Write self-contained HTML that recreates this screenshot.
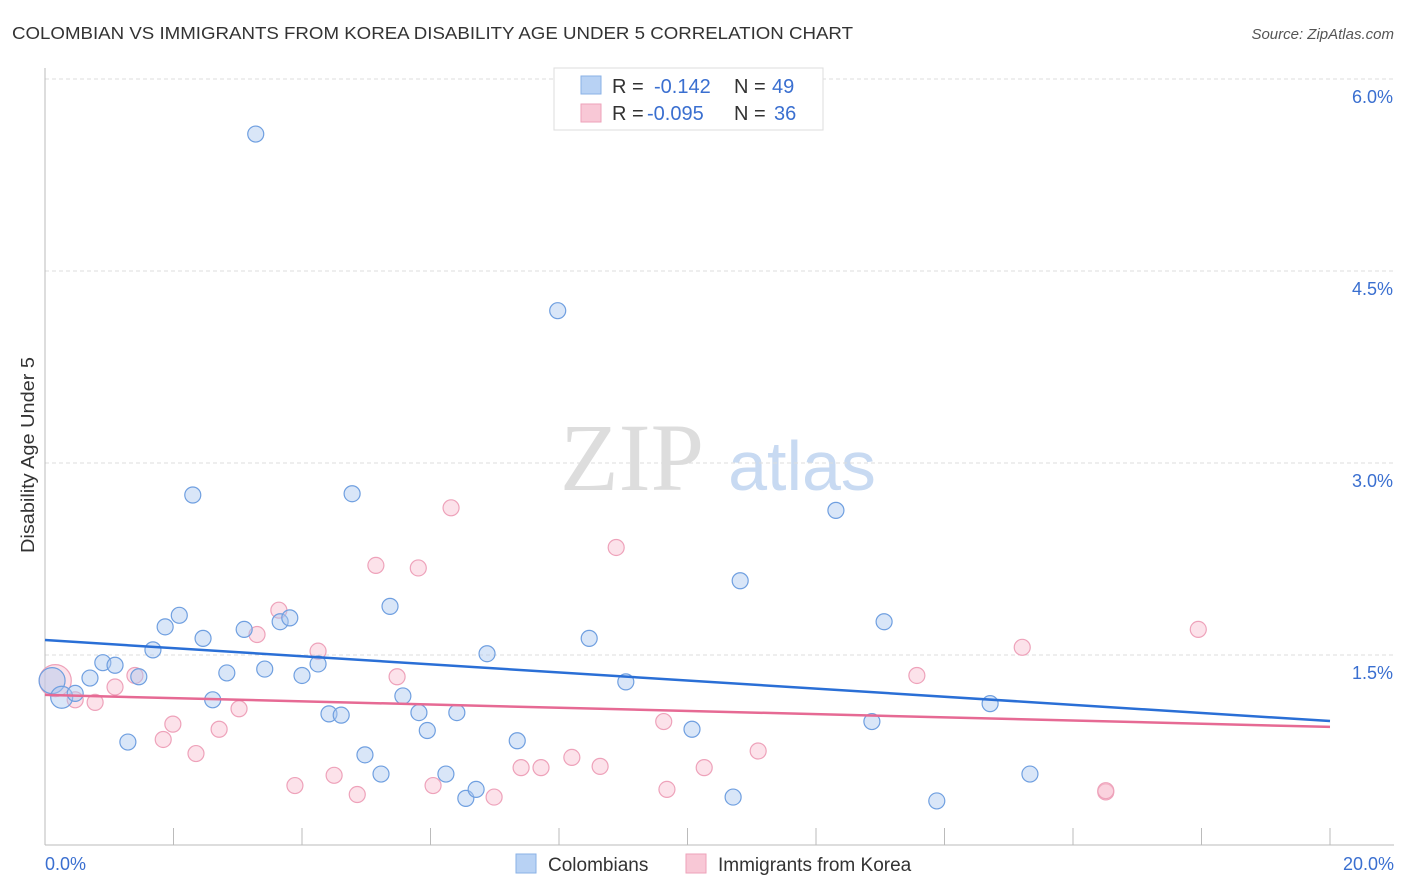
<!DOCTYPE html>
<html><head><meta charset="utf-8"><style>
body{margin:0;background:#fff;font-family:"Liberation Sans",sans-serif;}
svg{display:block}
</style></head><body>
<svg width="1406" height="892">
<text x="12" y="39" font-size="17.5" fill="#333" textLength="841" lengthAdjust="spacingAndGlyphs">COLOMBIAN VS IMMIGRANTS FROM KOREA DISABILITY AGE UNDER 5 CORRELATION CHART</text>
<text x="1394" y="39" font-size="15" fill="#555" font-style="italic" text-anchor="end">Source: ZipAtlas.com</text>
<text transform="translate(34,455) rotate(-90)" font-size="18" fill="#333" text-anchor="middle" textLength="196" lengthAdjust="spacingAndGlyphs">Disability Age Under 5</text>
<g>
<text x="632" y="490" font-size="96" font-family="Liberation Serif,serif" fill="#ddd" text-anchor="middle">ZIP</text>
<text x="802" y="490" font-size="70" fill="#c8daf2" text-anchor="middle">atlas</text>
</g>
<g id="grid"></g>
<g id="axes"></g>
<g id="marks"></g>
<g>
<rect x="554" y="68" width="269" height="62" fill="#fff" stroke="#ddd"/>
<rect x="581" y="76" width="20" height="18" fill="#b8d2f4" stroke="#8ab1e6"/>
<rect x="581" y="104" width="20" height="18" fill="#f8c8d6" stroke="#eea2ba"/>
<text x="612" y="93" font-size="20" fill="#333">R = </text><text x="654" y="93" font-size="20" fill="#3a6fd0">-0.142</text>
<text x="734" y="93" font-size="20" fill="#333">N = </text><text x="772" y="93" font-size="20" fill="#3a6fd0">49</text>
<text x="612" y="120" font-size="20" fill="#333">R = </text><text x="647" y="120" font-size="20" fill="#3a6fd0">-0.095</text>
<text x="734" y="120" font-size="20" fill="#333">N = </text><text x="774" y="120" font-size="20" fill="#3a6fd0">36</text>
</g>
<g>
<rect x="516" y="854" width="20" height="19" fill="#b8d2f4" stroke="#8ab1e6"/>
<text x="548" y="871" font-size="19" fill="#333">Colombians</text>
<rect x="686" y="854" width="20" height="19" fill="#f8c8d6" stroke="#eea2ba"/>
<text x="718" y="871" font-size="19" fill="#333">Immigrants from Korea</text>
</g>
</svg>
<script>
const yTicks=[1.5,3.0,4.5,6.0];
const xTickVals=[0,2,4,6,8,10,12,14,16,18,20];
const blueX=[0.11,0.26,0.47,0.70,0.90,1.09,1.29,1.46,1.68,1.87,2.09,2.30,2.46,2.61,2.83,3.10,3.28,3.42,3.66,3.81,4.00,4.25,4.42,4.61,4.78,4.98,5.23,5.37,5.57,5.82,5.95,6.24,6.41,6.55,6.71,6.88,7.35,7.98,8.47,9.04,10.07,10.71,10.82,12.31,12.87,13.06,13.88,14.71,15.33];
const blueY=[1.30,1.17,1.20,1.32,1.44,1.42,0.82,1.33,1.54,1.72,1.81,2.75,1.63,1.15,1.36,1.70,5.57,1.39,1.76,1.79,1.34,1.43,1.04,1.03,2.76,0.72,0.57,1.88,1.18,1.05,0.91,0.57,1.05,0.38,0.45,1.51,0.83,4.19,1.63,1.29,0.92,0.39,2.08,2.63,0.98,1.76,0.36,1.12,0.57];
const pinkX=[0.16,0.47,0.78,1.09,1.40,1.84,1.99,2.35,2.71,3.02,3.30,3.64,3.89,4.25,4.50,4.86,5.15,5.48,5.81,6.04,6.32,6.99,7.41,7.72,8.20,8.64,8.89,9.63,9.68,10.26,11.10,13.57,15.21,16.51,16.51,17.95];
const pinkY=[1.30,1.15,1.13,1.25,1.34,0.84,0.96,0.73,0.92,1.08,1.66,1.85,0.48,1.53,0.56,0.41,2.20,1.33,2.18,0.48,2.65,0.39,0.62,0.62,0.70,0.63,2.34,0.98,0.45,0.62,0.75,1.34,1.56,0.43,0.44,1.70];
const blueTrend=[1.617,0.984];
const pinkTrend=[1.188,0.938];
const NS='http://www.w3.org/2000/svg';
const X=v=>45+v/20*1285;
const Y=v=>847-v*128;
function mk(p,t,a){const e=document.createElementNS(NS,t);for(const k in a)e.setAttribute(k,a[k]);p.appendChild(e);return e;}
const grid=document.getElementById('grid'),axes=document.getElementById('axes'),marks=document.getElementById('marks');
yTicks.forEach(t=>{
 const l=mk(grid,'line',{x1:45,x2:1394,y1:Y(t),y2:Y(t),stroke:'#ddd','stroke-dasharray':'4,3'});
 
 
 const tx=mk(axes,'text',{x:1393,y:Y(t)+24,'font-size':18,fill:'#3a6fd0','text-anchor':'end'});
 tx.textContent=t.toFixed(1)+'%';
 
 
});
mk(axes,'line',{x1:45,x2:45,y1:68,y2:845,stroke:'#bbb'});
mk(axes,'line',{x1:45,x2:1394,y1:845,y2:845,stroke:'#bbb'});
xTickVals.forEach(t=>{if(t>0){const l=mk(axes,'line',{x1:X(t),x2:X(t),y1:828,y2:845,stroke:'#bbb'});
 
 }});
[[0,'0.0%','start',45],[20,'20.0%','end',1394]].forEach(d=>{const tx=mk(axes,'text',{x:d[3],y:870,'font-size':18,fill:'#3a6fd0','text-anchor':d[2]});tx.textContent=d[1];
 
 });
function pts(xs,ys,fill,stroke,name,big){
 xs.forEach((x,i)=>{const c=mk(marks,'circle',{cx:X(x),cy:Y(ys[i]),r:big[i]||8,fill:fill,stroke:stroke,'stroke-width':1.2});
 
 });
}
pts(pinkX,pinkY,'rgba(248,190,208,0.45)','#eea2ba','korea-point',{0:16});
pts(blueX,blueY,'rgba(170,200,240,0.45)','#6f9fe0','colombian-point',{0:13,1:11});
const b=mk(marks,'line',{x1:X(0),x2:X(20),y1:Y(blueTrend[0]),y2:Y(blueTrend[1]),stroke:'#2a6fd6','stroke-width':2.5});


const p=mk(marks,'line',{x1:X(0),x2:X(20),y1:Y(pinkTrend[0]),y2:Y(pinkTrend[1]),stroke:'#e66a94','stroke-width':2.5});


</script>
</body></html>
